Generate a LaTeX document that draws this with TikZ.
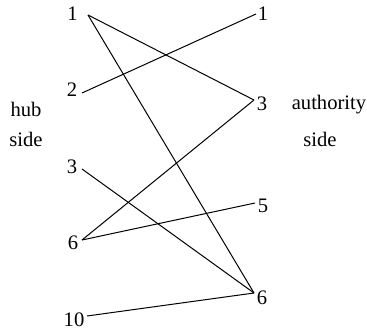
\documentclass[tikz,border=0pt]{standalone}
\usepackage{fontspec}
\setmainfont{Liberation Serif}
\begin{document}
\begin{tikzpicture}[x=0.5pt,y=-0.5pt,
  lbl/.style={inner sep=0pt,font=\fontsize{10.3}{12}\selectfont},
  edge/.style={line width=0.5pt}]
\useasboundingbox (0,0) rectangle (367,331);
% hub side labels
\node[lbl] (hl1) at (72.5,14) {1};
\node[lbl] (hl2) at (72,90) {2};
\node[lbl] (hl3) at (72,167) {3};
\node[lbl] (hl6) at (73,243) {6};
\node[lbl] (hl10) at (74,320) {10};
% authority side labels
\node[lbl] (al1) at (263,14) {1};
\node[lbl] (al3) at (262,104) {3};
\node[lbl] (al5) at (263,206) {5};
\node[lbl] (al6) at (262,298) {6};
% side captions
\node[lbl,anchor=base] (hub) at (26,117) {hub};
\node[lbl,anchor=base] (hside) at (26,146) {side};
\node[lbl,anchor=base] (auth) at (329,110) {authority};
\node[lbl,anchor=base] (aside) at (320,146) {side};
% endpoints
\coordinate (h1) at (88,15);
\coordinate (h2) at (82,93);
\coordinate (h3) at (82,169);
\coordinate (h6) at (82,240);
\coordinate (h10) at (87,316);
\coordinate (a1) at (256,14);
\coordinate (a3) at (254,100);
\coordinate (a5) at (255,203);
\coordinate (a6) at (254,293);
% edges
\draw[edge] (h1) -- (a3);
\draw[edge] (h1) -- (a6);
\draw[edge] (h2) -- (a1);
\draw[edge] (h3) -- (a6);
\draw[edge] (h6) -- (a3);
\draw[edge] (h6) -- (a5);
\draw[edge] (h10) -- (a6);
\end{tikzpicture}
\end{document}
